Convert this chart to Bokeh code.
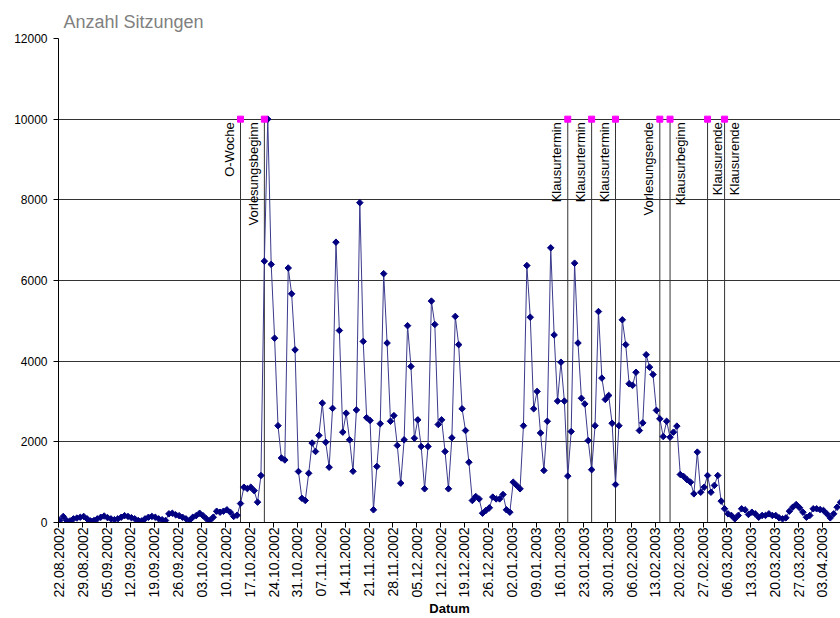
import math
from datetime import datetime
from bokeh.plotting import figure
from bokeh.models import Range1d, FixedTicker, ColumnDataSource
from bokeh.core.properties import value
from bokeh.embed import file_html
from bokeh.resources import INLINE

# ---------------- data ----------------
start_date = "22.08.2002"
sessions = [
    50, 150, 50, 40, 90, 110, 130, 150, 90, 40,
    50, 90, 130, 160, 120, 90, 70, 90, 130, 170,
    150, 120, 90, 50, 40, 90, 130, 150, 130, 90,
    70, 50, 215, 230, 190, 170, 130, 90, 50, 130,
    170, 230, 170, 90, 50, 130, 280, 255, 280, 315,
    255, 150, 180, 470, 875, 840, 875, 790, 505, 1165,
    6480, 10000, 6400, 4570, 2400, 1600, 1550, 6310, 5670, 4280,
    1265, 600, 545, 1220, 1970, 1760, 2160, 2960, 1990, 1370,
    2830, 6950, 4760, 2240, 2710, 2050, 1270, 2790, 7930, 4490,
    2600, 2530, 315, 1390, 2450, 6170, 4450, 2510, 2650, 1910,
    975, 2050, 4880, 3870, 2090, 2545, 1885, 835, 1885, 5490,
    4910, 2430, 2545, 1760, 835, 2100, 5110, 4410, 2820, 2280,
    1495, 545, 645, 585, 230, 300, 365, 630, 585, 585,
    695, 315, 255, 1000, 920, 835, 2400, 6370, 5090, 2820,
    3250, 2220, 1290, 2510, 6810, 4650, 3010, 3975, 3010, 1150,
    2255, 6430, 4450, 3080, 2940, 2030, 1310, 2400, 5230, 3580,
    3050, 3150, 2460, 940, 2400, 5025, 4410, 3440, 3400, 3725,
    2280, 2470, 4160, 3850, 3670, 2780, 2570, 2130, 2510, 2115,
    2240, 2390, 1190, 1140, 1060, 1000, 710, 1745, 750, 875,
    1165, 750, 920, 1165, 530, 340, 215, 175, 90, 175,
    340, 315, 200, 255, 215, 130, 175, 175, 215, 175,
    175, 115, 90, 115, 280, 380, 445, 365, 255, 130,
    175, 340, 340, 320, 300, 215, 115, 215, 380, 500,
]

event_dates = ["14.10.2002", "21.10.2002", "18.01.2003", "25.01.2003", "01.02.2003",
               "14.02.2003", "17.02.2003", "28.02.2003", "05.03.2003"]
event_names = ["O-Woche", "Vorlesungsbeginn", "Klausurtermin", "Klausurtermin", "Klausurtermin",
               "Vorlesungsende", "Klausurbeginn", "Klausurende", "Klausurende"]
event_level = 10000

tick_labels = ["22.08.2002", "29.08.2002", "05.09.2002", "12.09.2002", "19.09.2002",
               "26.09.2002", "03.10.2002", "10.10.2002", "17.10.2002", "24.10.2002",
               "31.10.2002", "07.11.2002", "14.11.2002", "21.11.2002", "28.11.2002",
               "05.12.2002", "12.12.2002", "19.12.2002", "26.12.2002", "02.01.2003",
               "09.01.2003", "16.01.2003", "23.01.2003", "30.01.2003", "06.02.2003",
               "13.02.2003", "20.02.2003", "27.02.2003", "06.03.2003", "13.03.2003",
               "20.03.2003", "27.03.2003", "03.04.2003", "10.04.2003"]
y_ticks = [0, 2000, 4000, 6000, 8000, 10000, 12000]

title_text = "Anzahl Sitzungen"
x_title = "Datum"

# ---------------- helpers ----------------
FMT = "%d.%m.%Y"
d0 = datetime.strptime(start_date, FMT)


def day_of(s):
    return (datetime.strptime(s, FMT) - d0).days


SHIFT = 0.3  # points sit slightly right of their date tick
xs = [i + SHIFT for i in range(len(sessions))]
ev_x = [day_of(s) + SHIFT for s in event_dates]
tick_pos = [day_of(s) for s in tick_labels]

FONT = "Liberation Sans"

p = figure(width=840, height=618,
           x_range=Range1d(-0.09, 229.3), y_range=Range1d(0, 12000),
           output_backend="svg", toolbar_location=None,
           min_border_left=58, min_border_right=0,
           min_border_top=38, min_border_bottom=96)
p.outline_line_color = None
p.background_fill_color = "white"
p.border_fill_color = "white"

p.title.text = title_text
p.title.text_font = FONT
p.title.text_font_size = "18px"
p.title.text_font_style = "normal"
p.title.text_color = "#808080"
p.title.align = "left"
p.title.offset = 5
p.title.standoff = 13

p.xgrid.visible = False
p.ygrid.grid_line_color = "#333333"
p.ygrid.grid_line_width = 1
p.ygrid.ticker = FixedTicker(ticks=y_ticks)

ya = p.yaxis[0]
ya.ticker = FixedTicker(ticks=y_ticks)
ya.axis_line_color = "black"
ya.major_tick_line_color = "black"
ya.major_tick_out = 5
ya.major_tick_in = 0
ya.minor_tick_line_color = None
ya.major_label_text_font = FONT
ya.major_label_text_font_size = "12px"
ya.major_label_text_color = "black"
ya.major_label_standoff = 6

xa = p.xaxis[0]
xa.ticker = FixedTicker(ticks=tick_pos)
xa.major_label_overrides = {t: l for t, l in zip(tick_pos, tick_labels)}
xa.major_label_orientation = math.pi / 2
xa.axis_line_color = "black"
xa.major_tick_line_color = "black"
xa.major_tick_out = 5
xa.major_tick_in = 0
xa.minor_tick_line_color = None
xa.major_label_text_font = FONT
xa.major_label_text_font_size = "14px"
xa.major_label_text_color = "black"
xa.major_label_standoff = 0
xa.axis_label = x_title
xa.axis_label_text_font = FONT
xa.axis_label_text_font_size = "13px"
xa.axis_label_text_font_style = "bold"
xa.axis_label_text_color = "black"
xa.axis_label_standoff = 0

# event drop lines
p.segment(x0=ev_x, y0=[0] * len(ev_x), x1=ev_x, y1=[event_level] * len(ev_x),
          line_color="#333333", line_width=1)

# data
src = ColumnDataSource(dict(x=xs, y=sessions))
p.line("x", "y", source=src, line_color="#3a3a8c", line_width=1)
p.scatter("x", "y", source=src, marker="square", angle=math.pi / 4, size=4.6,
          fill_color="#000080", line_color="#000080", line_width=1)

# event markers and labels
p.scatter(ev_x, [event_level] * len(ev_x), marker="square", size=6,
          fill_color="#FF00FF", line_color="#FF00FF")

offsets = [-11 if i < 6 else 10 for i in range(len(ev_x))]
p.text(x=ev_x, y=[event_level] * len(ev_x), text=event_names, angle=math.pi / 2,
       x_offset=offsets, y_offset=3, text_align="right", text_baseline="middle",
       text_font=value(FONT), text_font_size=value("13px"), text_color="black")

open("out.html", "w").write(file_html(p, INLINE))
